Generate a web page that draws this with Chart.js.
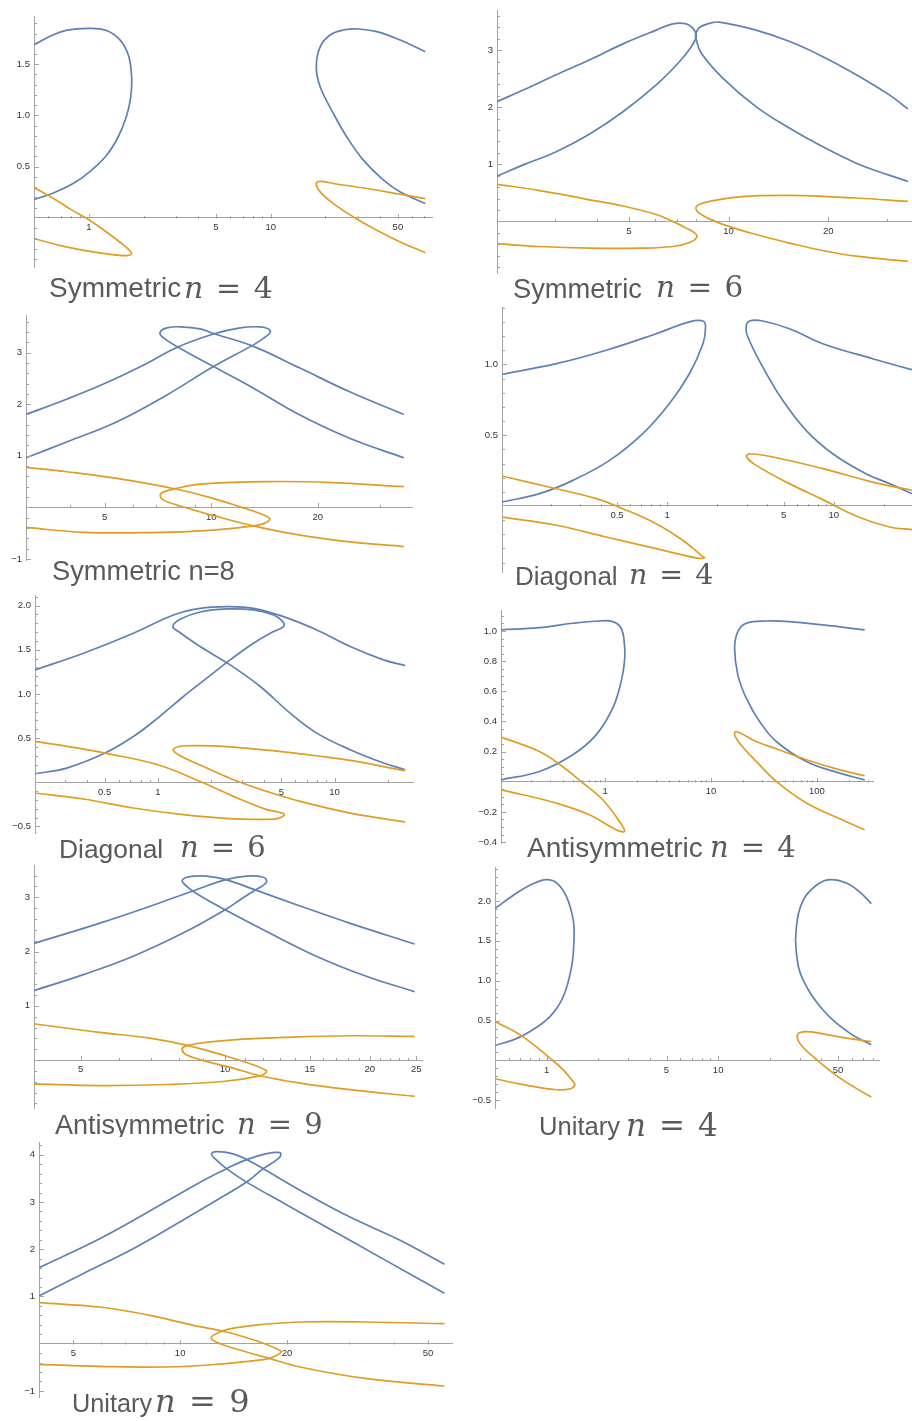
<!DOCTYPE html>
<html>
<head>
<meta charset="utf-8">
<script src="https://cdn.jsdelivr.net/npm/chart.js@4.4.1/dist/chart.umd.min.js"></script>
<style>
  html, body { margin: 0; padding: 0; background: #fff; overflow: hidden; }
  #page { position: relative; width: 912px; height: 1421px; overflow: hidden; background: #fff; }
  #page canvas { position: absolute; }
  .cap { position: absolute; white-space: nowrap; line-height: 1; color: #5a5a5a; }
  .word { font-family: "Liberation Sans", Arial, sans-serif; }
  .math { font-family: "DejaVu Serif", "Liberation Serif", serif; }
  .math i { font-style: italic; }
  .math .eq { margin: 0 0.42em; }
</style>
</head>
<body>
<div id="page"></div>
<script>
// ---- data: curves, as [x, y] pairs ----
// Symmetric n = 4
const p1BlueL = [[0.5,1.69],[0.61,1.77],[0.75,1.83],[1.0,1.85],[1.25,1.83],[1.48,1.74],[1.65,1.59],[1.72,1.38],[1.70,1.18],[1.61,0.99],[1.45,0.79],[1.25,0.61],[1.01,0.45],[0.82,0.335],[0.64,0.244],[0.5,0.179]];
const p1BlueR = [[70.7,0.14],[51.5,0.254],[41.7,0.368],[32.3,0.564],[26.2,0.79],[22.1,1.02],[18.7,1.28],[17.8,1.475],[18.7,1.67],[21.2,1.785],[25.1,1.834],[30.4,1.844],[38.3,1.818],[51.5,1.736],[70.7,1.622]];
const p1OrangeL = [[0.5,0.296],[0.64,0.189],[0.80,0.081],[1.01,-0.023],[1.25,-0.137],[1.48,-0.235],[1.66,-0.31],[1.72,-0.35],[1.65,-0.365],[1.48,-0.366],[1.15,-0.342],[0.75,-0.283],[0.5,-0.202]];
const p1OrangeR = [[70.7,0.189],[51.5,0.231],[33.8,0.287],[22.1,0.336],[18.7,0.356],[17.8,0.335],[18.7,0.254],[22.1,0.14],[28.5,0.01],[38.3,-0.12],[51.5,-0.235],[70.7,-0.339]];
const p1XTicks = [1, 5, 10, 50];
const p1YTicks = [0.5, 1, 1.5];

// Symmetric n = 6
const p2BlueL = [[2.0,2.10],[2.40,2.30],[3.02,2.57],[3.81,2.83],[4.80,3.11],[6.05,3.35],[6.79,3.46],[7.46,3.46],[7.81,3.38],[7.97,3.29],[7.97,3.21],[7.72,3.06],[7.12,2.80],[6.05,2.39],[4.80,1.92],[3.81,1.53],[3.02,1.22],[2.40,0.99],[2.0,0.79]];
const p2BlueR = [[34.8,1.97],[30.5,2.22],[24.3,2.57],[19.2,2.89],[15.3,3.15],[12.1,3.35],[9.39,3.49],[8.76,3.47],[8.18,3.40],[7.97,3.29],[7.97,3.21],[8.27,2.95],[9.61,2.51],[12.1,2.01],[15.3,1.63],[19.2,1.31],[24.3,1.02],[30.5,0.81],[34.8,0.70]];
const p2OrangeL = [[2.0,0.65],[2.69,0.54],[3.64,0.40],[4.80,0.27],[6.05,0.12],[6.79,0.0],[7.46,-0.12],[7.90,-0.20],[8.03,-0.27],[7.63,-0.37],[6.80,-0.44],[5.39,-0.47],[3.81,-0.47],[2.69,-0.44],[2.0,-0.39]];
const p2OrangeR = [[34.8,0.35],[24.3,0.41],[15.3,0.455],[10.8,0.43],[8.76,0.35],[8.18,0.30],[7.97,0.23],[8.27,0.12],[9.39,-0.03],[12.1,-0.23],[15.3,-0.38],[19.2,-0.51],[24.3,-0.61],[34.8,-0.70]];
const p2XTicks = [5, 10, 20];
const p2YTicks = [1, 2, 3];

// Symmetric n=8
const p3BlueL = [[3.0,1.80],[3.92,2.10],[5.0,2.40],[6.45,2.76],[8.0,3.10],[10.15,3.36],[12.07,3.48],[13.74,3.50],[14.51,3.46],[14.67,3.39],[14.20,3.30],[13.16,3.15],[10.15,2.73],[7.50,2.18],[5.42,1.66],[3.92,1.27],[3.0,0.96]];
const p3BlueR = [[35.0,1.80],[24.6,2.24],[17.81,2.70],[13.16,3.12],[10.15,3.37],[9.31,3.46],[8.18,3.50],[7.50,3.48],[7.18,3.40],[7.26,3.31],[8.0,3.12],[10.15,2.73],[13.16,2.31],[17.81,1.79],[24.6,1.34],[35.0,0.96]];
const p3OrangeL = [[3.0,0.775],[3.92,0.69],[5.42,0.56],[8.0,0.35],[10.15,0.17],[12.07,0.01],[13.74,-0.12],[14.6,-0.21],[14.35,-0.29],[13.16,-0.36],[10.15,-0.44],[6.73,-0.49],[4.37,-0.485],[3.0,-0.39]];
const p3OrangeR = [[35.0,0.40],[22.1,0.48],[14.35,0.50],[9.31,0.45],[8.0,0.37],[7.34,0.30],[7.18,0.23],[7.34,0.14],[8.0,0.045],[10.15,-0.16],[13.16,-0.36],[17.81,-0.54],[24.6,-0.67],[35.0,-0.76]];
const p3XTicks = [5, 10, 20];
const p3YTicks = [-1, 1, 2, 3];

// Diagonal n = 4
const p4BlueL = [[0.102,0.93],[0.216,1.005],[0.431,1.10],[0.859,1.216],[1.36,1.30],[1.64,1.306],[1.70,1.264],[1.64,1.146],[1.36,0.934],[1.03,0.722],[0.714,0.511],[0.451,0.322],[0.272,0.181],[0.171,0.087],[0.102,0.028]];
const p4BlueR = [[29.5,0.962],[17.1,1.04],[8.59,1.146],[5.42,1.252],[3.75,1.306],[3.12,1.306],[2.98,1.264],[3.05,1.193],[3.75,0.981],[4.94,0.746],[6.82,0.534],[9.86,0.369],[15.6,0.228],[21.6,0.158],[29.5,0.087]];
const p4OrangeL = [[0.102,0.212],[0.216,0.122],[0.375,0.052],[0.542,-0.019],[0.859,-0.125],[1.24,-0.242],[1.60,-0.348],[1.67,-0.365],[1.49,-0.366],[0.859,-0.301],[0.431,-0.219],[0.216,-0.136],[0.102,-0.078]];
const p4OrangeR = [[29.5,0.111],[17.1,0.169],[8.59,0.264],[4.31,0.346],[3.12,0.369],[3.0,0.346],[3.42,0.287],[5.42,0.158],[8.59,0.045],[13.6,-0.07],[21.6,-0.148],[29.5,-0.167]];
const p4XTicks = [0.5, 1, 5, 10];
const p4YTicks = [0.5, 1];

// Diagonal n = 6
const p5BlueA = [[0.202,1.272],[0.380,1.461],[0.728,1.687],[1.227,1.894],[1.736,1.969],[2.459,1.988],[3.48,1.969],[5.14,1.875],[7.94,1.724],[12.27,1.536],[18.95,1.385],[25.1,1.321]];
const p5BlueB = [[0.202,0.096],[0.305,0.16],[0.503,0.33],[0.728,0.518],[1.0,0.726],[1.397,0.971],[1.894,1.178],[2.567,1.385],[3.48,1.574],[4.52,1.706],[5.14,1.762],[5.10,1.819],[4.52,1.894],[3.48,1.951],[2.459,1.962],[1.736,1.928],[1.338,1.845],[1.216,1.762],[1.309,1.706],[1.736,1.536],[2.567,1.329],[3.80,1.084],[5.61,0.782],[7.94,0.556],[12.27,0.368],[18.95,0.217],[25.1,0.141]];
const p5OrangeL = [[0.202,0.462],[0.380,0.375],[0.503,0.33],[1.0,0.198],[1.736,0.009],[2.68,-0.16],[4.14,-0.31],[4.85,-0.34],[5.2,-0.365],[4.8,-0.41],[4.0,-0.42],[2.68,-0.416],[1.397,-0.367],[0.728,-0.292],[0.380,-0.19],[0.202,-0.122]];
const p5OrangeR = [[25.1,0.13],[12.27,0.247],[6.39,0.322],[2.68,0.398],[1.46,0.413],[1.227,0.375],[1.309,0.311],[1.894,0.16],[2.68,0.028],[4.14,-0.104],[6.39,-0.217],[12.27,-0.349],[25.1,-0.45]];
const p5XTicks = [0.5, 1, 5, 10];
const p5YTicks = [-0.5, 0.5, 1, 1.5, 2];

// Antisymmetric n = 4
const p6BlueL = [[0.104,1.007],[0.2395,1.022],[0.495,1.051],[0.884,1.066],[1.18,1.062],[1.416,1.018],[1.523,0.907],[1.523,0.797],[1.416,0.664],[1.18,0.488],[0.822,0.311],[0.495,0.179],[0.2395,0.068],[0.104,0.013]];
const p6BlueR = [[282,1.007],[114,1.040],[55.2,1.062],[33.2,1.066],[21.5,1.051],[17.9,0.996],[16.7,0.885],[17.9,0.709],[21.5,0.554],[28.7,0.40],[41.3,0.267],[79.3,0.135],[164,0.057],[282,0.013]];
const p6OrangeL = [[0.104,0.296],[0.2395,0.201],[0.384,0.108],[0.593,0.002],[0.95,-0.119],[1.366,-0.263],[1.523,-0.329],[1.27,-0.318],[0.711,-0.219],[0.344,-0.141],[0.167,-0.086],[0.104,-0.053]];
const p6OrangeR = [[282,0.04],[164,0.079],[79.3,0.146],[41.3,0.219],[26.7,0.267],[17.3,0.333],[16.7,0.311],[18.6,0.256],[26.7,0.135],[41.3,0.002],[79.3,-0.141],[164,-0.245],[282,-0.318]];
const p6XTicks = [1, 10, 100];
const p6YTicks = [-0.4, -0.2, 0.2, 0.4, 0.6, 0.8, 1];

// Antisymmetric n = 9
const p7BlueL = [[4.0,2.15],[5.47,2.52],[6.96,2.83],[8.71,3.14],[10.0,3.32],[11.08,3.39],[12.0,3.37],[12.2,3.29],[12.0,3.22],[11.53,3.13],[10.73,2.95],[10.0,2.77],[8.17,2.34],[6.42,1.91],[5.05,1.57],[4.0,1.28]];
const p7BlueR = [[24.8,2.14],[18.22,2.52],[14.32,2.84],[11.44,3.15],[10.0,3.33],[9.14,3.39],[8.44,3.38],[8.14,3.31],[8.30,3.21],[8.71,3.07],[10.0,2.77],[12.2,2.37],[15.52,1.91],[19.74,1.54],[24.8,1.26]];
const p7OrangeL = [[4.0,0.67],[5.47,0.51],[6.96,0.405],[8.30,0.276],[10.0,0.08],[11.44,-0.086],[12.1,-0.18],[12.2,-0.22],[11.81,-0.29],[10.0,-0.39],[7.54,-0.45],[5.47,-0.47],[4.0,-0.44]];
const p7OrangeR = [[24.8,0.436],[18.22,0.448],[13.22,0.417],[10.39,0.374],[8.85,0.313],[8.24,0.252],[8.14,0.19],[8.30,0.098],[9.14,-0.025],[10.39,-0.147],[11.81,-0.288],[14.32,-0.423],[18.22,-0.546],[24.8,-0.669]];
const p7XTicks = [5, 10, 15, 20, 25];
const p7YTicks = [1, 2, 3];

// Unitary n = 4
const p8BlueL = [[0.5,1.904],[0.64,2.071],[0.836,2.217],[1.0,2.267],[1.144,2.225],[1.307,2.05],[1.43,1.758],[1.443,1.508],[1.398,1.175],[1.25,0.80],[1.045,0.55],[0.80,0.363],[0.64,0.258],[0.5,0.188]];
const p8BlueR = [[78.2,0.196],[58.5,0.342],[40.9,0.633],[31.3,1.008],[28.6,1.342],[28.6,1.675],[31.3,2.008],[37.4,2.196],[44.7,2.267],[55.9,2.225],[66.8,2.113],[78.2,1.967]];
const p8OrangeL = [[0.5,0.488],[0.715,0.308],[1.045,0.029],[1.25,-0.117],[1.43,-0.27],[1.46,-0.31],[1.38,-0.355],[1.144,-0.367],[0.731,-0.304],[0.5,-0.229]];
const p8OrangeR = [[78.2,0.2375],[55.9,0.279],[40.9,0.333],[32.7,0.3625],[29.2,0.333],[29.9,0.217],[35.7,0.05],[46.8,-0.158],[61.1,-0.325],[78.2,-0.458]];
const p8XTicks = [1, 5, 10, 50];
const p8YTicks = [-0.5, 0.5, 1, 1.5, 2];

// Unitary n = 9
const p9BlueL = [[4.0,1.609],[5.93,2.223],[8.21,2.809],[9.98,3.176],[11.87,3.493],[13.51,3.705],[15.39,3.896],[17.53,4.023],[18.91,4.051],[19.24,4.009],[18.91,3.917],[17.15,3.705],[15.39,3.423],[12.66,3.035],[9.98,2.576],[7.37,2.011],[5.32,1.482],[4.0,1.009]];
const p9BlueR = [[55.6,1.68],[41.69,2.19],[30.12,2.68],[21.77,3.25],[17.15,3.705],[15.39,3.90],[14.11,4.02],[12.66,4.065],[12.26,4.01],[12.53,3.92],[13.51,3.705],[15.39,3.42],[19.53,2.98],[27.03,2.385],[37.41,1.79],[55.6,1.07]];
const p9OrangeL = [[4.0,0.868],[5.93,0.776],[8.21,0.60],[10.88,0.388],[13.51,0.247],[16.78,0.035],[18.70,-0.106],[19.24,-0.176],[18.30,-0.282],[17.15,-0.339],[12.66,-0.438],[9.15,-0.494],[5.93,-0.48],[4.0,-0.438]];
const p9OrangeR = [[55.6,0.423],[33.6,0.459],[21.77,0.459],[16.07,0.388],[13.51,0.296],[12.39,0.176],[12.26,0.10],[12.97,0.0],[15.39,-0.176],[17.53,-0.296],[21.77,-0.494],[33.6,-0.741],[55.6,-0.896]];
const p9XTicks = [5, 10, 20, 50];
const p9YTicks = [-1, 1, 2, 3, 4];

const captionWords = ['Symmetric', 'Symmetric', 'Symmetric n=8', 'Diagonal', 'Diagonal', 'Antisymmetric', 'Antisymmetric', 'Unitary', 'Unitary'];
const captionN = [4, 6, null, 4, 6, 4, 9, 4, 9];

// ---- panels ----
const panels = [
  { blue: [p1BlueL, p1BlueR], orange: [p1OrangeL, p1OrangeR], xTicks: p1XTicks, yTicks: p1YTicks, xRange: [0.5, 77], yRange: [-0.479, 1.971], yDec: 1, yMinor: 0.1 },
  { blue: [p2BlueL, p2BlueR], orange: [p2OrangeL, p2OrangeR], xTicks: p2XTicks, yTicks: p2YTicks, xRange: [2.0, 35.8], yRange: [-0.904, 3.703], yDec: 0, yMinor: 0.2 },
  { blue: [p3BlueL, p3BlueR], orange: [p3OrangeL, p3OrangeR], xTicks: p3XTicks, yTicks: p3YTicks, xRange: [3.0, 36.9], yRange: [-1.021, 3.729], yDec: 0, yMinor: 0.2 },
  { blue: [p4BlueL, p4BlueR], orange: [p4OrangeL, p4OrangeR], xTicks: p4XTicks, yTicks: p4YTicks, xRange: [0.102, 29.5], yRange: [-0.466, 1.405], yDec: 1, yMinor: 0.1 },
  { blue: [p5BlueA, p5BlueB], orange: [p5OrangeL, p5OrangeR], xTicks: p5XTicks, yTicks: p5YTicks, xRange: [0.202, 27.8], yRange: [-0.575, 2.12], yDec: 1, yMinor: 0.1 },
  { blue: [p6BlueL, p6BlueR], orange: [p6OrangeL, p6OrangeR], xTicks: p6XTicks, yTicks: p6YTicks, xRange: [0.104, 338], yRange: [-0.406, 1.139], yDec: 1, yMinor: 0.05 },
  { blue: [p7BlueL, p7BlueR], orange: [p7OrangeL, p7OrangeR], xTicks: p7XTicks, yTicks: p7YTicks, xRange: [4.0, 25.7], yRange: [-0.883, 3.595], yDec: 0, yMinor: 0.2, intMinor: true },
  { blue: [p8BlueL, p8BlueR], orange: [p8OrangeL, p8OrangeR], xTicks: p8XTicks, yTicks: p8YTicks, xRange: [0.5, 86.7], yRange: [-0.596, 2.425], yDec: 1, yMinor: 0.1 },
  { blue: [p9BlueL, p9BlueR], orange: [p9OrangeL, p9OrangeR], xTicks: p9XTicks, yTicks: p9YTicks, xRange: [4.0, 58.4], yRange: [-1.129, 4.27], yDec: 0, yMinor: 0.2 }
];

// plot frames on the page: [y-axis x, right end, top, bottom]
const frames = [
  [34, 432, 16, 267], [497, 912, 10, 273], [26, 412, 315, 560],
  [502, 912, 307, 572], [35, 413, 595, 833], [501, 873, 610, 843],
  [34, 422, 865, 1108], [495, 879, 867, 1108], [39, 452, 1142, 1397]
];
// caption placement: word x, math x, baseline, word size, math size, clip
const capPlace = [
  [49, 184, 298, 28, 30], [513, 656, 298, 27.3, 29.5], [52, 0, 580, 27.3, 0],
  [515, 629, 585, 26, 28.5], [59, 180, 858, 26.4, 29], [527, 710, 858, 28, 29],
  [55, 237, 1135, 27, 29, 1137], [539, 626, 1136, 25.6, 31], [72, 155, 1412, 25.3, 32]
];

const BLUE = '#5e81b5', ORANGE = '#e19c24', AXIS = '#a3a3a3';
const page = document.getElementById('page');

const tickMarks = {
  id: 'tickMarks',
  afterDraw(chart, args, o) {
    const { ctx, chartArea: a, scales: { x, y } } = chart;
    const x0 = Math.round(a.left) + 0.5;
    const y0 = Math.round(y.getPixelForValue(0)) + 0.5;
    const near = (v, list) => list.some(t => Math.abs(t - v) < 1e-6 * Math.max(1, Math.abs(t)));
    ctx.save();
    ctx.strokeStyle = AXIS;
    ctx.lineWidth = 1;
    ctx.beginPath();
    o.yTicks.forEach(v => {
      const p = Math.round(y.getPixelForValue(v)) + 0.5;
      ctx.moveTo(x0, p); ctx.lineTo(x0 + 4.5, p);
    });
    const k0 = Math.ceil(y.min / o.yMinor), k1 = Math.floor(y.max / o.yMinor);
    for (let k = k0; k <= k1; k++) {
      const v = +(k * o.yMinor).toFixed(4);
      if (k === 0 || near(v, o.yTicks)) continue;
      const p = Math.round(y.getPixelForValue(v)) + 0.5;
      ctx.moveTo(x0, p); ctx.lineTo(x0 + 2.5, p);
    }
    o.xTicks.forEach(v => {
      const p = Math.round(x.getPixelForValue(v)) + 0.5;
      ctx.moveTo(p, y0); ctx.lineTo(p, y0 - 4.5);
    });
    const minors = [];
    if (o.intMinor) {
      for (let v = Math.ceil(x.min); v <= x.max; v++) minors.push(v);
    } else {
      for (let d = Math.floor(Math.log10(x.min)); d <= Math.ceil(Math.log10(x.max)); d++) {
        for (let m = 1; m <= 9; m++) minors.push(+(m * Math.pow(10, d)).toPrecision(6));
      }
    }
    minors.forEach(v => {
      if (v <= x.min || v >= x.max || near(v, o.xTicks)) return;
      const p = Math.round(x.getPixelForValue(v)) + 0.5;
      ctx.moveTo(p, y0); ctx.lineTo(p, y0 - 2.5);
    });
    ctx.stroke();
    ctx.restore();
  }
};

const fmtY = (v, dec) => (v < 0 ? '\u2212' : '') + Math.abs(v).toFixed(dec);
const line = (pts, color, order) => ({
  data: pts.map(([x, y]) => ({ x, y })),
  showLine: true,
  borderColor: color,
  borderWidth: 1.7,
  pointRadius: 0,
  pointHoverRadius: 0,
  tension: 0.4,
  fill: false,
  order
});

panels.forEach((p, i) => {
  const [ax, right, top, bottom] = frames[i];
  const cv = document.createElement('canvas');
  const w = 30 + (right - ax) + 12, h = (bottom - top) + 20;
  cv.width = w; cv.height = h;
  cv.style.left = (ax - 30) + 'px';
  cv.style.top = (top - 10) + 'px';
  cv.style.width = w + 'px'; cv.style.height = h + 'px';
  page.appendChild(cv);

  const tickFont = { family: '"Liberation Sans", Arial, sans-serif', size: 9.5 };
  new Chart(cv, {
    type: 'scatter',
    data: {
      datasets: [
        ...p.orange.map(d => line(d, ORANGE, 0)),
        ...p.blue.map(d => line(d, BLUE, 1))
      ]
    },
    options: {
      responsive: false,
      animation: false,
      events: [],
      layout: { padding: { left: 0, right: 12, top: 10, bottom: 10 } },
      plugins: {
        legend: { display: false },
        tooltip: { enabled: false },
        tickMarks: { xTicks: p.xTicks, yTicks: p.yTicks, yMinor: p.yMinor, intMinor: !!p.intMinor }
      },
      scales: {
        x: {
          type: 'logarithmic',
          min: p.xRange[0], max: p.xRange[1],
          bounds: 'data',
          position: { y: 0 },
          grid: { display: false, drawTicks: false },
          border: { display: true, color: AXIS, width: 1 },
          afterBuildTicks: s => { s.ticks = p.xTicks.map(v => ({ value: v })); },
          ticks: {
            autoSkip: false, maxRotation: 0, minRotation: 0, padding: 4,
            color: '#333', font: tickFont,
            callback: v => String(v)
          }
        },
        y: {
          type: 'linear',
          min: p.yRange[0], max: p.yRange[1],
          bounds: 'data',
          position: 'left',
          afterFit: s => { s.width = 30; },
          grid: { display: false, drawTicks: false },
          border: { display: true, color: AXIS, width: 1 },
          afterBuildTicks: s => { s.ticks = p.yTicks.map(v => ({ value: v })); },
          ticks: {
            autoSkip: false, padding: 4,
            color: '#333', font: tickFont,
            callback: v => fmtY(v, p.yDec)
          }
        }
      }
    },
    plugins: [tickMarks]
  });
});

// captions under each panel
captionWords.forEach((word, i) => {
  const [wx, mx, base, fs, ms, clip] = capPlace[i];
  const a = document.createElement('div');
  a.className = 'cap word';
  a.style.left = wx + 'px';
  a.style.fontSize = fs + 'px';
  const aTop = base - 0.8465 * fs;
  a.style.top = aTop + 'px';
  a.textContent = word;
  if (clip) { a.style.height = (clip - aTop) + 'px'; a.style.overflow = 'hidden'; }
  page.appendChild(a);
  if (captionN[i] == null) return;
  const m = document.createElement('div');
  m.className = 'cap math';
  m.style.left = mx + 'px';
  m.style.fontSize = ms + 'px';
  const mTop = base - 0.846 * ms;
  m.style.top = mTop + 'px';
  m.innerHTML = '<i>n</i><span class="eq">=</span>' + captionN[i];
  if (clip) { m.style.height = (clip - mTop) + 'px'; m.style.overflow = 'hidden'; }
  page.appendChild(m);
});
</script>
</body>
</html>
